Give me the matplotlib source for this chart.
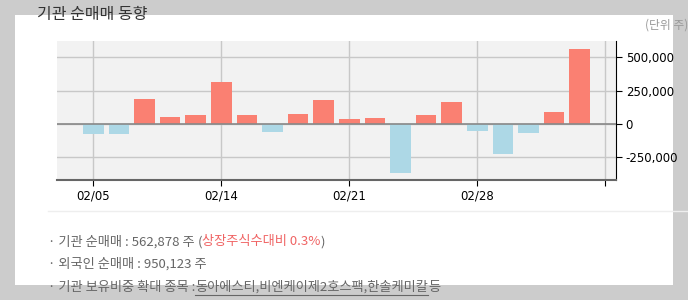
import matplotlib.pyplot as plt
from matplotlib.patches import Rectangle
from matplotlib.ticker import FuncFormatter

plt.rcParams['font.family'] = ['Noto Sans CJK KR', 'DejaVu Sans']

# 기관 순매매 (주), 거래일 순서
net_buy = [-72000, -72000, 185000, 50000, 70000, 312000, 70000, -60000, 77000, 177000,
           35000, 45000, -370000, 70000, 165000, -50000, -225000, -65000, 92000, 562878]
tick_pos = [0, 5, 10, 15, 20]
tick_labels = ['02/05', '02/14', '02/21', '02/28', '']
y_ticks = [-250000, 0, 250000, 500000]

fig = plt.figure(figsize=(6.88, 3.0), dpi=100)
fig.patch.set_facecolor('#cccccc')
fig.patches.append(Rectangle((15 / 688, 15 / 300), 658 / 688, 270 / 300,
                             transform=fig.transFigure, facecolor='white',
                             edgecolor='none', zorder=-5))

ax = fig.add_axes([57 / 688, 120 / 300, 559 / 688, 139 / 300])
ax.set_zorder(2)
ax.set_facecolor('#f2f2f2')
x = list(range(len(net_buy)))
colors = ['salmon' if v >= 0 else 'lightblue' for v in net_buy]
ax.bar(x, net_buy, width=0.8, color=colors, zorder=3)
ax.axhline(0, color='#888888', lw=1.2, zorder=4)

ax.set_xlim(-1.42, 20.42)
ax.set_ylim(-420000, 622000)
ax.set_xticks(tick_pos)
ax.set_xticklabels(tick_labels, fontsize=8.5, family='DejaVu Sans')
ax.set_yticks(y_ticks)
ax.yaxis.set_major_formatter(FuncFormatter(lambda v, p: f'{int(v):,}'))
ax.yaxis.tick_right()
for t in ax.get_yticklabels():
    t.set_fontsize(8.5)
    t.set_family('DejaVu Sans')
ax.grid(True, color='#c8c8c8', lw=1.0, zorder=1)
ax.set_axisbelow(True)
for s in ['left', 'top']:
    ax.spines[s].set_visible(False)
ax.spines['bottom'].set_color('#666666')
ax.spines['bottom'].set_linewidth(1.5)
ax.spines['right'].set_color('black')
ax.tick_params(axis='both', length=4, color='black', pad=3)

fig.text(37 / 688, 1 - 15 / 300, '기관 순매매 동향', fontsize=11.5, color='#333333',
         va='center', ha='left')
fig.text(1.0, 1 - 25 / 300, '(단위 주)', fontsize=8.5, color='#999999',
         va='center', ha='right')

fig.add_artist(plt.Line2D([48 / 688, 1.0], [1 - 211 / 300, 1 - 211 / 300],
                          transform=fig.transFigure, color='#eeeeee', lw=1))

fs = 9.5
gray = '#666666'
t1 = fig.text(48 / 688, 1 - 242 / 300, '· 기관 순매매 : 562,878 주 ', fontsize=fs,
              color=gray, va='center')
fig.canvas.draw()
bb = t1.get_window_extent()
t2 = fig.text(bb.x1 / 688, 1 - 242 / 300, '(', fontsize=fs, color=gray, va='center')
bb = t2.get_window_extent(fig.canvas.get_renderer())
t3 = fig.text(bb.x1 / 688, 1 - 242 / 300, '상장주식수대비 0.3%', fontsize=fs,
              color='#f06464', va='center')
bb = t3.get_window_extent(fig.canvas.get_renderer())
fig.text(bb.x1 / 688, 1 - 242 / 300, ')', fontsize=fs, color=gray, va='center')

fig.text(48 / 688, 1 - 264 / 300, '· 외국인 순매매 : 950,123 주', fontsize=fs,
         color=gray, va='center')

t5 = fig.text(48 / 688, 1 - 287 / 300, '· 기관 보유비중 확대 종목 :', fontsize=fs,
              color=gray, va='center')
bb = t5.get_window_extent(fig.canvas.get_renderer())
t6 = fig.text(bb.x1 / 688, 1 - 287 / 300, '동아에스티,비엔케이제2호스팩,한솔케미칼', fontsize=fs,
              color=gray, va='center')
bb6 = t6.get_window_extent(fig.canvas.get_renderer())
fig.add_artist(plt.Line2D([bb6.x0 / 688, bb6.x1 / 688], [1 - 295 / 300, 1 - 295 / 300],
                          transform=fig.transFigure, color=gray, lw=0.8))
fig.text(bb6.x1 / 688, 1 - 287 / 300, '등', fontsize=fs, color=gray, va='center')

fig.savefig('out.png', dpi=100, facecolor=fig.get_facecolor())
